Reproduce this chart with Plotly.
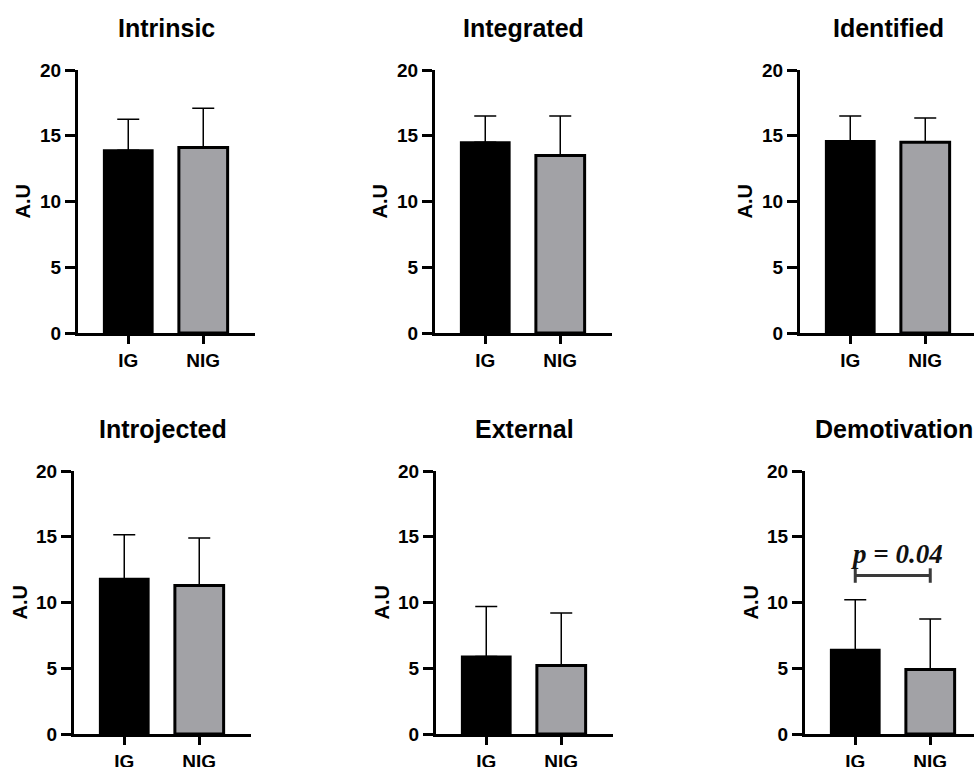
import plotly.graph_objects as go

# ---------------- data ----------------
groups = ["IG", "NIG"]
panel_titles = ["Intrinsic", "Integrated", "Identified", "Introjected", "External", "Demotivation"]
ig_means = [13.9, 14.5, 14.6, 11.8, 5.9, 6.4]
nig_means = [14.1, 13.5, 14.5, 11.3, 5.2, 4.9]
ig_sd = [2.35, 2.0, 1.9, 3.35, 3.8, 3.8]
nig_sd = [3.0, 3.0, 1.85, 3.6, 4.0, 3.85]
y_ticks = [0, 5, 10, 15, 20]
y_label = "A.U"
p_label = "p = 0.04"
p_bracket_y = 12.05

# ---------------- layout geometry (pixels) ----------------
W, H = 974, 767
# (axis x, end x, top y (value 20), bottom y (value 0))
panels_px = [
    (78, 255, 70, 333),
    (435, 612, 70, 333),
    (800, 974, 70, 333),
    (74, 251, 471, 734),
    (436, 613, 471, 734),
    (805, 974, 471, 734),
]
px_per_cat = 75.0
x_start = -0.67

FONT = "Liberation Sans, Arial, sans-serif"
BLACK_BAR = "#000000"
GREY_BAR = "#A2A2A6"

fig = go.Figure()
annotations = []
shapes = []

for i, (ax0, ax1, ty, by) in enumerate(panels_px):
    n = i + 1
    xa = "x" if n == 1 else f"x{n}"
    ya = "y" if n == 1 else f"y{n}"
    xdom = [ax0 / W, ax1 / W]
    ydom = [1 - by / H, 1 - ty / H]
    x_end = x_start + (ax1 - ax0) / px_per_cat

    fig.add_trace(go.Bar(
        x=[groups[0]], y=[ig_means[i]],
        marker=dict(color=BLACK_BAR, line=dict(color="#000000", width=2)),
        error_y=dict(type="data", array=[ig_sd[i]], arrayminus=[0], symmetric=False,
                     color="#000000", thickness=1.5, width=11),
        width=0.65, xaxis=xa, yaxis=ya, showlegend=False,
    ))
    fig.add_trace(go.Bar(
        x=[groups[1]], y=[nig_means[i]],
        marker=dict(color=GREY_BAR, line=dict(color="#000000", width=3)),
        error_y=dict(type="data", array=[nig_sd[i]], arrayminus=[0], symmetric=False,
                     color="#000000", thickness=1.5, width=11),
        width=0.65, xaxis=xa, yaxis=ya, showlegend=False,
    ))

    xkey = "xaxis" if n == 1 else f"xaxis{n}"
    ykey = "yaxis" if n == 1 else f"yaxis{n}"
    fig.update_layout(**{
        xkey: dict(
            domain=xdom, anchor=ya, type="category",
            categoryorder="array", categoryarray=groups,
            range=[x_start, x_end],
            showline=True, linecolor="#000000", linewidth=3,
            ticks="outside", ticklen=8, tickwidth=3, tickcolor="#000000",
            tickfont=dict(family=FONT, size=19, color="#000000", weight="bold"),
            showgrid=False, zeroline=False, fixedrange=True, automargin=False,
        ),
        ykey: dict(
            domain=ydom, anchor=xa, range=[0, 20],
            tickvals=y_ticks,
            showline=True, linecolor="#000000", linewidth=3,
            ticks="outside", ticklen=10, tickwidth=3, tickcolor="#000000",
            tickfont=dict(family=FONT, size=19, color="#000000", weight="bold"),
            showgrid=False, zeroline=False, fixedrange=True, automargin=False,
        ),
    })

    # panel title
    annotations.append(dict(
        text=f"<b>{panel_titles[i]}</b>", xref="paper", yref="paper",
        x=(ax0 + 177 / 2) / W,
        y=1 - (28 if ty < 300 else 429) / H,
        xanchor="center", yanchor="middle", showarrow=False,
        font=dict(family=FONT, size=25, color="#000000"),
    ))
    # y axis title
    annotations.append(dict(
        text=f"<b>{y_label}</b>", xref="paper", yref="paper",
        x=(ax0 - 55) / W, y=1 - (ty + by) / 2 / H, textangle=-90,
        xanchor="center", yanchor="middle", showarrow=False,
        font=dict(family=FONT, size=20, color="#000000"),
    ))

# significance bracket on Demotivation panel
bcol = "#3A3A3A"
shapes.append(dict(type="line", xref="x6", yref="y6", x0=0, x1=1,
                   y0=p_bracket_y, y1=p_bracket_y, line=dict(color=bcol, width=3)))
shapes.append(dict(type="line", xref="x6", yref="y6", x0=0, x1=0,
                   y0=p_bracket_y - 0.55, y1=p_bracket_y + 0.55, line=dict(color=bcol, width=3)))
shapes.append(dict(type="line", xref="x6", yref="y6", x0=1, x1=1,
                   y0=p_bracket_y - 0.55, y1=p_bracket_y + 0.55, line=dict(color=bcol, width=3)))
annotations.append(dict(
    text=f"<b><i>{p_label}</i></b>", xref="x6", yref="y6",
    x=0.55, y=p_bracket_y + 1.65, xanchor="center", yanchor="middle", showarrow=False,
    font=dict(family="Liberation Serif, Times New Roman, serif", size=27, color="#111111"),
))

fig.update_layout(
    width=W, height=H, autosize=False,
    margin=dict(l=0, r=0, t=0, b=0, autoexpand=False),
    paper_bgcolor="#FFFFFF", plot_bgcolor="rgba(0,0,0,0)",
    barmode="overlay",
    annotations=annotations, shapes=shapes,
    showlegend=False,
)

fig.write_html(
    "out.html",
    config={"displayModeBar": False, "staticPlot": True},
    post_script="document.body.style.margin='0px';document.body.style.padding='0px';document.body.style.overflow='hidden';",
)
